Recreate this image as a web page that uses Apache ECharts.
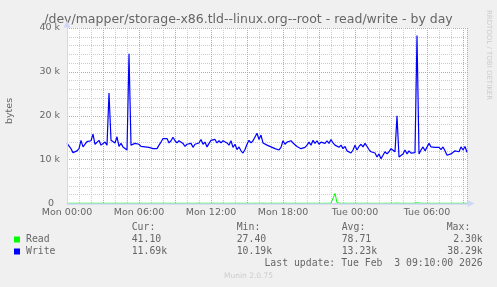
<!DOCTYPE html>
<html>
<head>
<meta charset="utf-8">
<script src="https://cdn.jsdelivr.net/npm/echarts@6/dist/echarts.min.js"></script>
<style>
html,body{margin:0;padding:0;background:#f0f0f0;}
#c{width:497px;height:287px;}
</style>
</head>
<body>
<div id="c"></div>
<script>
// ---- data ----
const titleText = '/dev/mapper/storage-x86.tld--linux.org--root - read/write - by day';
const yAxisName = 'bytes';
const xTickLabels = ['Mon 00:00', 'Mon 06:00', 'Mon 12:00', 'Mon 18:00', 'Tue 00:00', 'Tue 06:00'];
const stepMinutes = 10; // sample spacing, starting Mon 00:00
const seriesNames = ['Read', 'Write'];
const seriesColors = ['#00ff00', '#0000ff'];
// Write, in k bytes
const writeK = [
  13.7, 13.3, 12.5, 11.6, 12.0, 12.0, 12.5, 14.4, 12.9, 13.0,
  14.1, 13.7, 14.3, 15.8, 13.5, 13.7, 14.4, 13.3, 13.7, 14.0,
  13.3, 25.2, 14.4, 14.0, 13.8, 15.2, 13.0, 13.7, 12.9, 12.5,
  12.2, 34.1, 13.3, 13.5, 13.7, 13.3, 13.5, 13.0, 13.3, 12.9,
  13.0, 12.8, 13.0, 12.5, 12.3, 12.5, 13.3, 14.0, 14.8, 14.4,
  14.8, 13.8, 14.3, 15.1, 14.3, 13.8, 14.3, 14.6, 13.7, 13.0,
  13.5, 13.3, 13.7, 12.8, 13.5, 13.3, 13.8, 14.6, 13.5, 14.0,
  12.9, 13.7, 14.4, 14.0, 14.6, 13.8, 14.3, 13.8, 14.3, 14.6,
  13.8, 13.3, 14.3, 12.8, 13.5, 12.3, 12.9, 12.0, 11.5, 12.3,
  13.5, 14.4, 13.8, 14.3, 14.0, 16.0, 14.6, 15.6, 13.8,
  14.0, 13.3, 13.7, 12.9, 13.0, 12.5, 12.9, 12.2, 12.8, 14.3,
  13.5, 14.0, 13.7, 14.3, 13.8, 13.5, 13.0, 12.9, 12.5, 12.9,
  12.8, 13.3, 14.0, 13.3, 14.4, 13.7, 14.3, 13.5, 14.0, 14.4,
  13.7, 14.3, 13.7, 14.6, 13.8, 13.3, 13.7, 12.8, 13.3, 12.5,
  13.0, 12.0, 12.3, 11.5, 12.2, 13.3, 12.2, 13.0, 13.5, 12.9,
  13.7, 14.0, 12.3, 11.8, 12.0, 11.5, 10.6, 11.3, 10.19, 11.0,
  11.8, 11.3, 11.8, 12.5, 12.2, 11.8, 20.0, 10.6, 11.0, 11.3,
  12.2, 11.3, 12.0, 11.5, 11.8, 11.6, 38.29, 11.3, 12.2, 12.9,
  12.0, 11.8, 13.7, 12.9, 12.5, 12.8, 12.5, 12.8, 12.3, 12.9,
  12.0, 11.0, 10.8, 11.3, 11.1, 12.0, 12.3, 11.8, 12.9, 12.2,
  13.0, 11.69
];
// Read, in bytes
const readBytes = [
  45, 38, 52, 61, 40, 35, 48, 72, 55, 41,
  39, 44, 58, 90, 47, 36, 42, 51, 63, 44,
  37, 120, 49, 41, 55, 46, 38, 43, 60, 52,
  40, 135, 47, 39, 44, 58, 36, 42, 49, 53,
  41, 38, 46, 65, 50, 37, 43, 48, 56, 40,
  35, 44, 52, 47, 39, 61, 45, 38, 42, 57,
  48, 36, 40, 53, 44, 39, 71, 46, 41, 37,
  50, 43, 38, 45, 62, 47, 40, 36, 44, 51,
  39, 46, 55, 42, 38, 49, 60, 44, 37, 43,
  52, 41, 36, 47, 58, 40, 45, 39, 68, 43,
  38, 44, 50, 41, 36, 47, 55, 42, 39, 46,
  53, 40, 37, 45, 49, 42, 38, 57, 44, 41,
  36, 48, 43, 39, 52, 46, 40, 37, 44, 51,
  42, 39, 60, 410, 2300, 180, 45, 38, 42, 50,
  41, 37, 46, 54, 40, 36, 43, 49, 39, 45,
  52, 41, 38, 44, 47, 36, 40, 27.4, 43, 48,
  39, 45, 51, 42, 37, 95, 44, 40, 38, 46,
  43, 39, 50, 41, 37, 160, 45, 42, 38, 47,
  44, 40, 36, 49, 43, 38, 45, 52, 41, 37,
  46, 42, 39, 44, 50, 38, 43, 47, 40, 45,
  41.10
];
const legendHeader = ['Cur:', 'Min:', 'Avg:', 'Max:'];
const readStats = ['41.10', '27.40', '78.71', '2.30k'];
const writeStats = ['11.69k', '10.19k', '13.23k', '38.29k'];
const lastUpdate = 'Last update: Tue Feb  3 09:10:00 2026';
const footer = 'Munin 2.0.75';
const watermark = 'RRDTOOL / TOBI OETIKER';
const yMaxK = 40;

// ---- build ----
const hours = i => i * stepMinutes / 60;
const writeData = writeK.map((v, i) => [hours(i), v]);
const readData = readBytes.map((v, i) => [hours(i), v / 1000]);
const xMax = hours(writeK.length - 1);

const FONT = '#666666';
const AXIS = '#CFD6F8';
const mono = '"DejaVu Sans Mono"';
const legFont = '9.8px ' + mono;
const colX = [131.7, 236.7, 341.7];
const maxRight = 482.7;
const rowY = [227, 239.5, 251.5, 263.5];

const graphics = [];
graphics.push({type:'text', x:248.5, y:19.5, style:{text:titleText, fill:FONT, font:'12.5px "DejaVu Sans"', textAlign:'center', textVerticalAlign:'middle'}});
graphics.push({type:'text', x:10, y:111, rotation:Math.PI/2, style:{text:yAxisName, fill:FONT, font:'9.5px "DejaVu Sans"', textAlign:'center', textVerticalAlign:'middle'}});
graphics.push({type:'text', x:489, y:55, rotation:-Math.PI/2, style:{text:watermark, fill:'#cccccc', font:'7px "DejaVu Sans"', textAlign:'center', textVerticalAlign:'middle'}});
legendHeader.forEach((t, k) => {
  graphics.push({type:'text', x: k < 3 ? colX[k] : 446.7, y: rowY[0], style:{text:t, fill:FONT, font:legFont, textAlign:'left', textVerticalAlign:'middle'}});
});
[readStats, writeStats].forEach((stats, r) => {
  const y = rowY[r + 1];
  graphics.push({type:'rect', shape:{x:14, y:y-3, width:6, height:6}, style:{fill:seriesColors[r]}});
  graphics.push({type:'text', x:26, y:y, style:{text:seriesNames[r], fill:FONT, font:legFont, textAlign:'left', textVerticalAlign:'middle'}});
  stats.forEach((t, k) => {
    if (k < 3) graphics.push({type:'text', x:colX[k], y:y, style:{text:t, fill:FONT, font:legFont, textAlign:'left', textVerticalAlign:'middle'}});
    else graphics.push({type:'text', x:maxRight, y:y, style:{text:t, fill:FONT, font:legFont, textAlign:'right', textVerticalAlign:'middle'}});
  });
});
graphics.push({type:'text', x:maxRight, y:rowY[3], style:{text:lastUpdate, fill:FONT, font:legFont, textAlign:'right', textVerticalAlign:'middle'}});
graphics.push({type:'text', x:248.5, y:276, style:{text:footer, fill:'#cccccc', font:'7.5px "DejaVu Sans"', textAlign:'center', textVerticalAlign:'middle'}});

const chart = echarts.init(document.getElementById('c'), null, {renderer:'canvas'});
const minorGrid = {show:true, lineStyle:{color:'#cdcdcd', type:[1,1], width:1}};
const majorGrid = {show:true, lineStyle:{color:'#eb9494', type:[1,1], width:1}};
chart.setOption({
  animation:false,
  backgroundColor:'#f0f0f0',
  grid:{left:67, right:30, top:28, bottom:83.5, show:true, backgroundColor:'#ffffff', borderWidth:0},
  xAxis:[
    {type:'value', min:0, max:xMax, interval:6, z:10, zlevel:1,
     axisLine:{show:true, lineStyle:{color:AXIS, width:1.5}, symbol:['none','triangle'], symbolSize:[7,7], symbolOffset:[0,4]},
     axisTick:{show:false}, splitLine:{show:false},
     axisLabel:{show:true, color:FONT, fontSize:9.5, fontFamily:'DejaVu Sans', margin:4, showMaxLabel:false,
       formatter: v => xTickLabels[Math.round(v/6)] || ''}},
    {type:'value', min:0, max:xMax, interval:3,
     axisLine:{show:false}, axisTick:{show:false}, axisLabel:{show:false},
     splitLine:majorGrid, minorTick:{show:false, splitNumber:3}, minorSplitLine:minorGrid}
  ],
  yAxis:[
    {type:'value', min:0, max:yMaxK, interval:10,
     axisLine:{show:false}, axisTick:{show:false},
     axisLabel:{color:FONT, fontSize:9.5, fontFamily:'DejaVu Sans', margin:7,
       formatter: v => v === 0 ? '0\u00a0\u00a0' : v + ' k'},
     splitLine:majorGrid, minorTick:{show:false, splitNumber:5}, minorSplitLine:minorGrid},
    {type:'value', min:0, max:yMaxK, position:'right', z:5,
     axisLine:{show:true, lineStyle:{color:'#8a8a8a', width:1}}, axisTick:{show:false}, axisLabel:{show:false}, splitLine:{show:false}},
    {type:'value', min:0, max:yMaxK, position:'left', z:10, zlevel:1,
     axisLine:{show:true, onZero:false, lineStyle:{color:AXIS, width:1}, symbol:['none','triangle'], symbolSize:[7,7], symbolOffset:[0,4]},
     axisTick:{show:false}, axisLabel:{show:false}, splitLine:{show:false}}
  ],
  series:[
    {name:seriesNames[0], type:'line', data:readData, xAxisIndex:0, yAxisIndex:0, showSymbol:false, symbol:'none',
     lineStyle:{color:seriesColors[0], width:1}, z:1},
    {name:seriesNames[1], type:'line', data:writeData, xAxisIndex:0, yAxisIndex:0, showSymbol:false, symbol:'none',
     lineStyle:{color:seriesColors[1], width:1.2}, z:3}
  ],
  graphic:graphics
});
</script>
</body>
</html>
